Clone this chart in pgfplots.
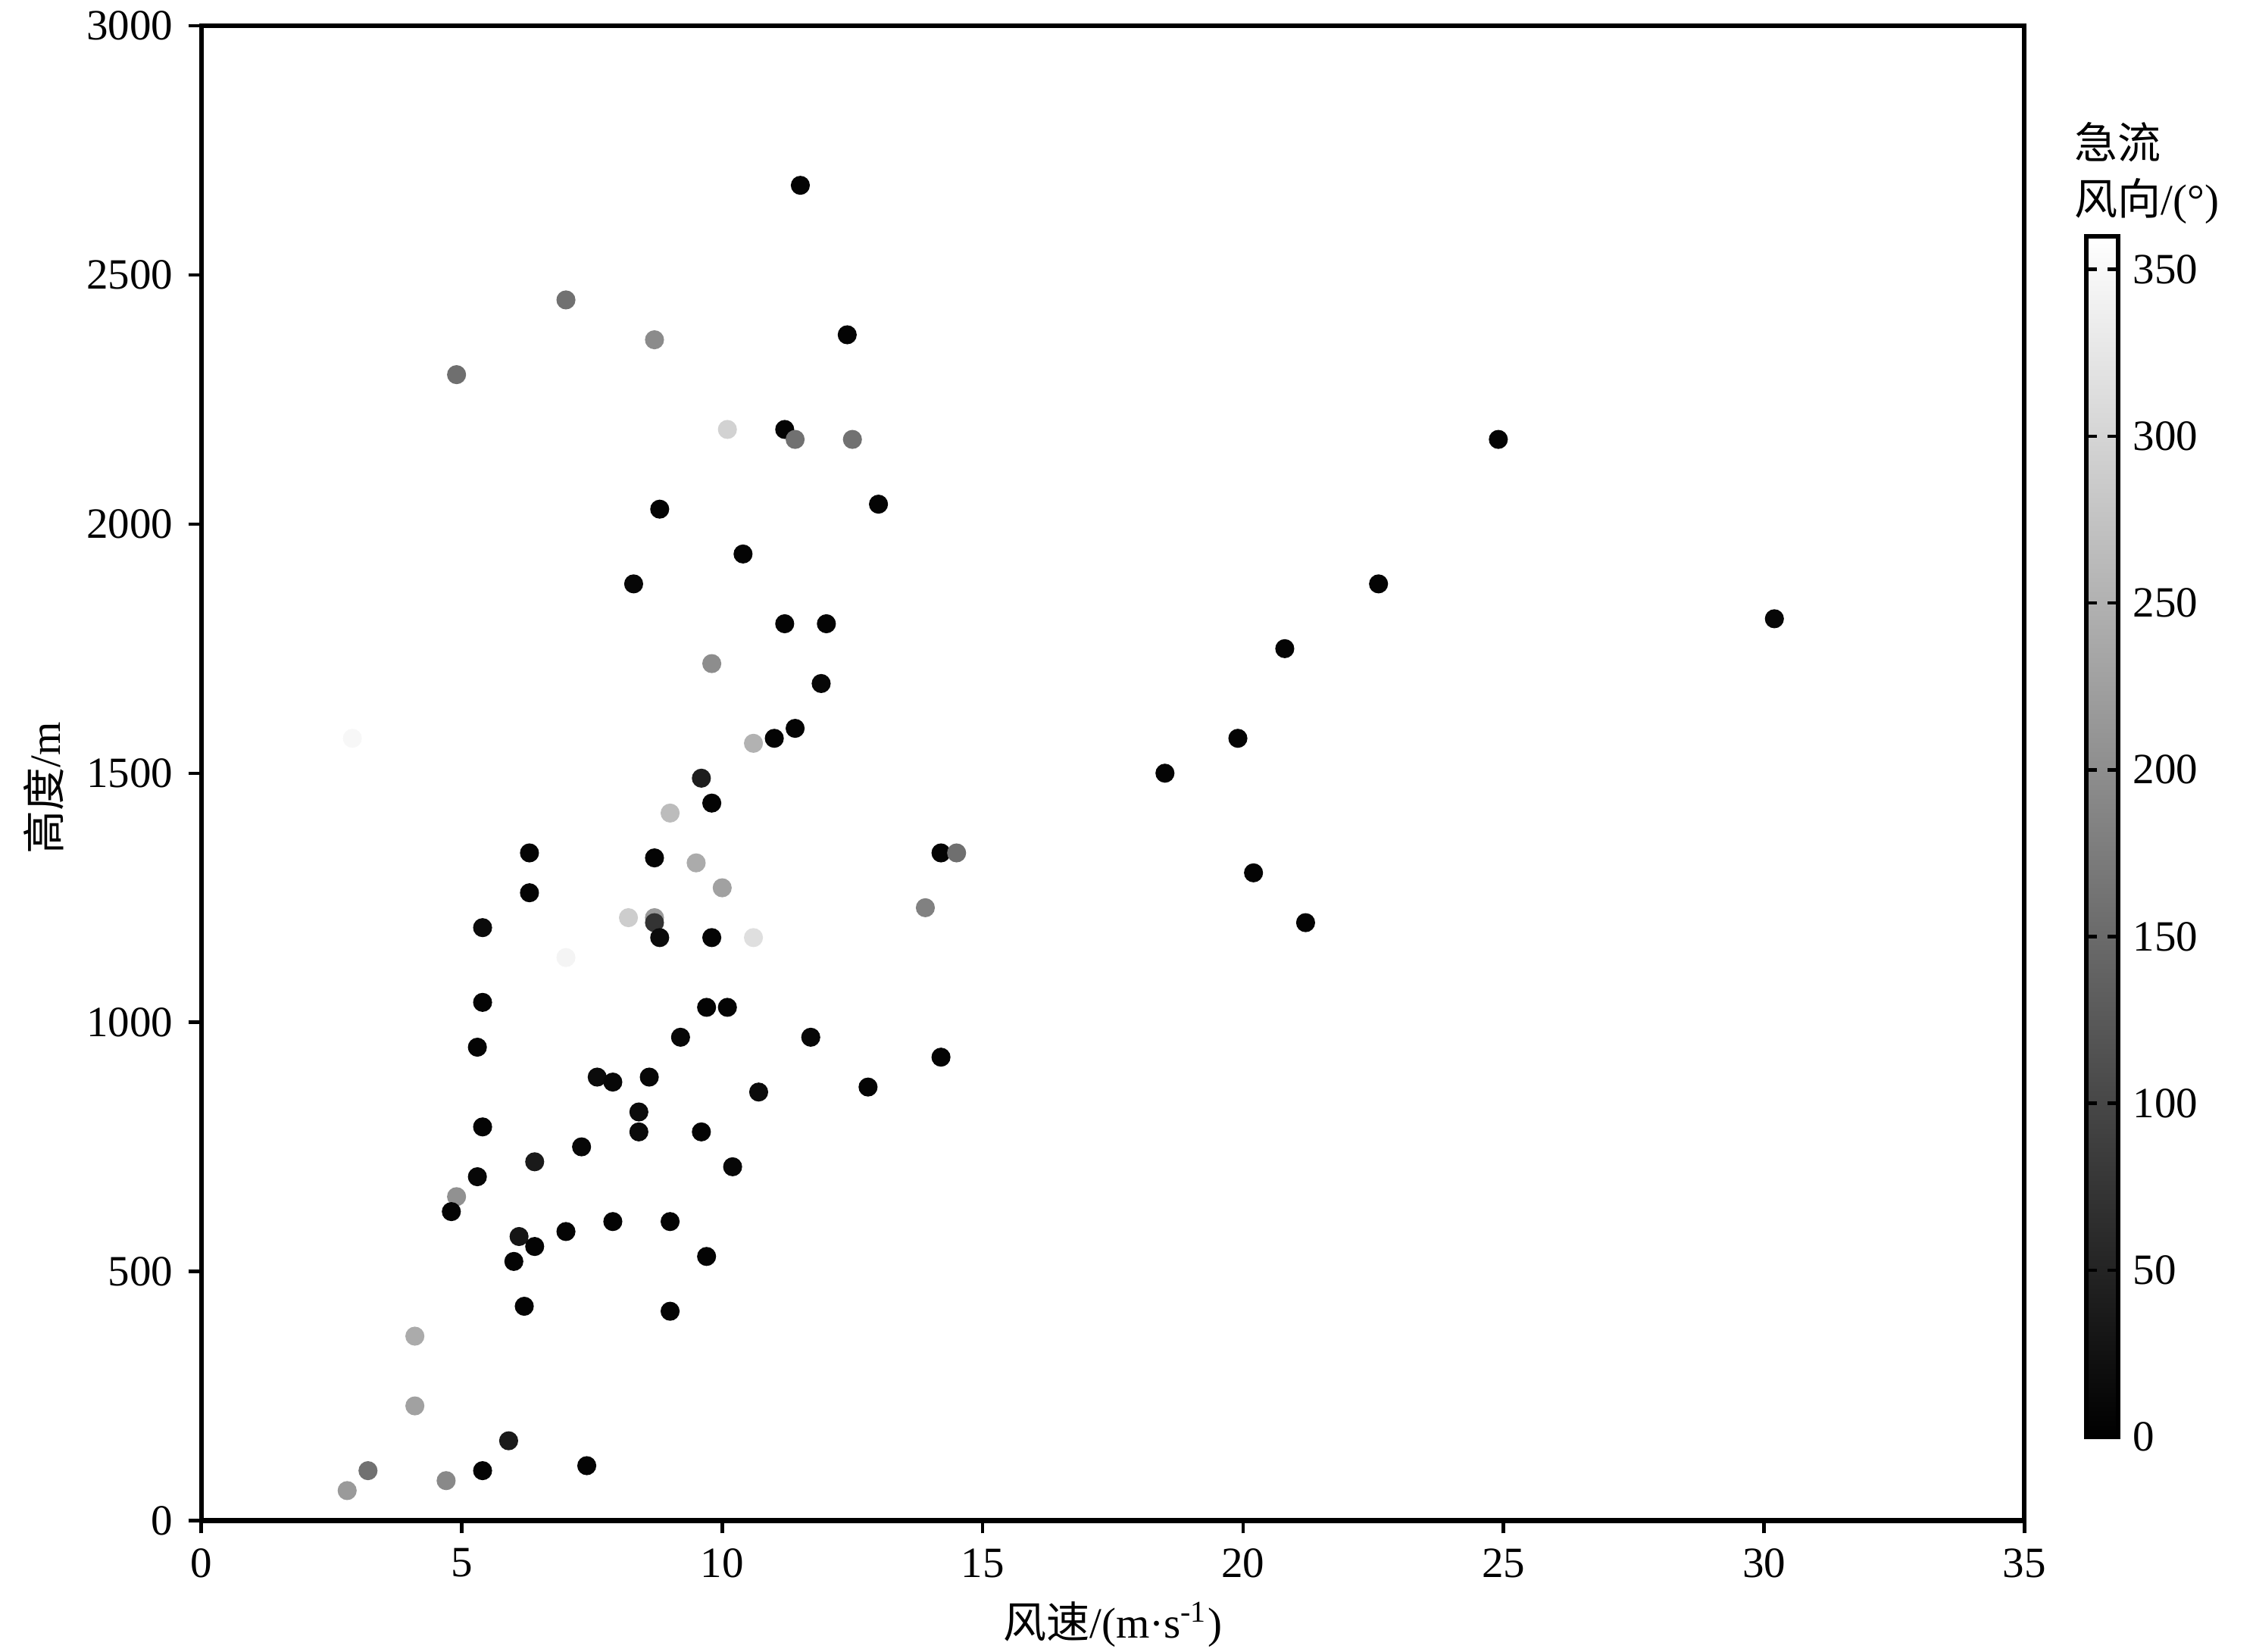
\documentclass[border=0pt]{standalone}
\usepackage{pgfplots}
\pgfplotsset{compat=1.18}
\usepackage{fontspec}
\setmainfont{Liberation Serif}
\newfontfamily\cjk{Noto Sans CJK SC}
\pgfplotsset{/pgf/number format/assume math mode=true, /pgf/number format/1000 sep={}}
\begin{document}
\begin{tikzpicture}
\begin{axis}[
  name=ax,
  scale only axis, width=422pt, height=346pt,
  xmin=0, xmax=35, ymin=0, ymax=3000,
  xtick={0,5,...,35}, ytick={0,500,...,3000},
  tick align=outside, tick pos=left,
  major tick length=3pt,
  every tick/.style={black, line width=0.8pt},
  axis line style={line width=1pt},
  tick label style={font=\rmfamily\fontsize{10}{12}\selectfont},
  xlabel={{\cjk 风速}/(m·s\textsuperscript{-1})},
  ylabel={{\cjk 高度}/m},
  xlabel style={at={(rel axis cs:0.5,-0.0695)}, anchor=center},
  ylabel style={at={(rel axis cs:-0.0865,0.49)}, anchor=center},
  label style={font=\fontsize{10}{12}\selectfont},
  clip=false,
  colormap/blackwhite,
  point meta min=0, point meta max=360,
  colorbar,
  colorbar style={
    at={(1.034,0.0559)}, anchor=south west,
    scale only axis, width=7.3pt, height=278pt,
    ytick={0,50,...,350},
    tick align=inside, major tick length=2.5pt,
    axis line style={line width=1pt},
    every tick/.style={black, line width=0.8pt},
    yticklabel style={font=\rmfamily\fontsize{10}{12}\selectfont, xshift=0pt},
  },
]
\addplot[scatter, only marks, mark=*, mark size=2pt, scatter src=explicit,
  scatter/use mapped color={draw=mapped color, fill=mapped color}]
table[meta=c] {
x y c
11.5 2680 5
7.0 2450 158
8.7 2370 195
4.9 2300 155
12.4 2380 5
11.2 2190 5
10.1 2190 294
11.4 2170 158
12.5 2170 158
24.9 2170 5
13.0 2040 5
8.8 2030 5
10.8 1950 360
10.4 1940 5
8.3 1880 10
22.6 1880 5
11.2 1800 5
12.0 1800 5
30.2 1810 10
20.8 1750 5
9.8 1720 198
11.9 1680 10
11.4 1590 5
10.6 1560 250
11.0 1570 5
19.9 1570 5
2.9 1570 346
18.5 1500 5
9.6 1490 40
9.8 1440 5
9.0 1420 264
6.3 1340 5
8.7 1330 5
14.2 1340 5
14.5 1340 155
9.5 1320 240
20.2 1300 5
10.0 1270 226
6.3 1260 5
13.9 1230 181
8.2 1210 288
8.7 1210 216
8.7 1200 72
21.2 1200 5
5.4 1190 15
8.8 1170 15
9.8 1170 5
10.6 1170 312
7.0 1130 342
5.4 1040 5
9.7 1030 5
10.1 1030 5
5.3 950 5
9.2 970 10
11.7 970 10
14.2 930 5
7.6 890 15
7.9 880 10
8.6 890 10
12.8 870 5
10.7 860 15
8.4 820 15
8.4 780 15
9.6 780 5
5.4 790 5
7.3 750 10
6.4 720 37
10.2 710 10
5.3 690 10
4.9 650 203
4.8 620 5
9.0 600 5
7.9 600 5
7.0 580 5
6.1 570 30
6.4 550 5
6.0 520 5
9.7 530 5
6.2 430 5
9.0 420 5
4.1 370 240
4.1 230 226
5.9 160 37
7.4 110 5
5.4 100 5
3.2 100 158
4.7 80 192
2.8 60 216
};
\draw[line width=1.3pt] (rel axis cs:0,0) -- (rel axis cs:1,0);
\node[anchor=south west, align=left, inner sep=0pt, font=\fontsize{10}{13}\selectfont]
  at (rel axis cs:1.027,0.867) {{\cjk 急流}\\{\cjk 风向}/(°)};
\end{axis}
\pgfresetboundingbox
\path ([shift={(-46.6pt,-30.3pt)}]ax.south west) rectangle ([shift={(53.6pt,6pt)}]ax.north east);
\end{tikzpicture}
\end{document}
